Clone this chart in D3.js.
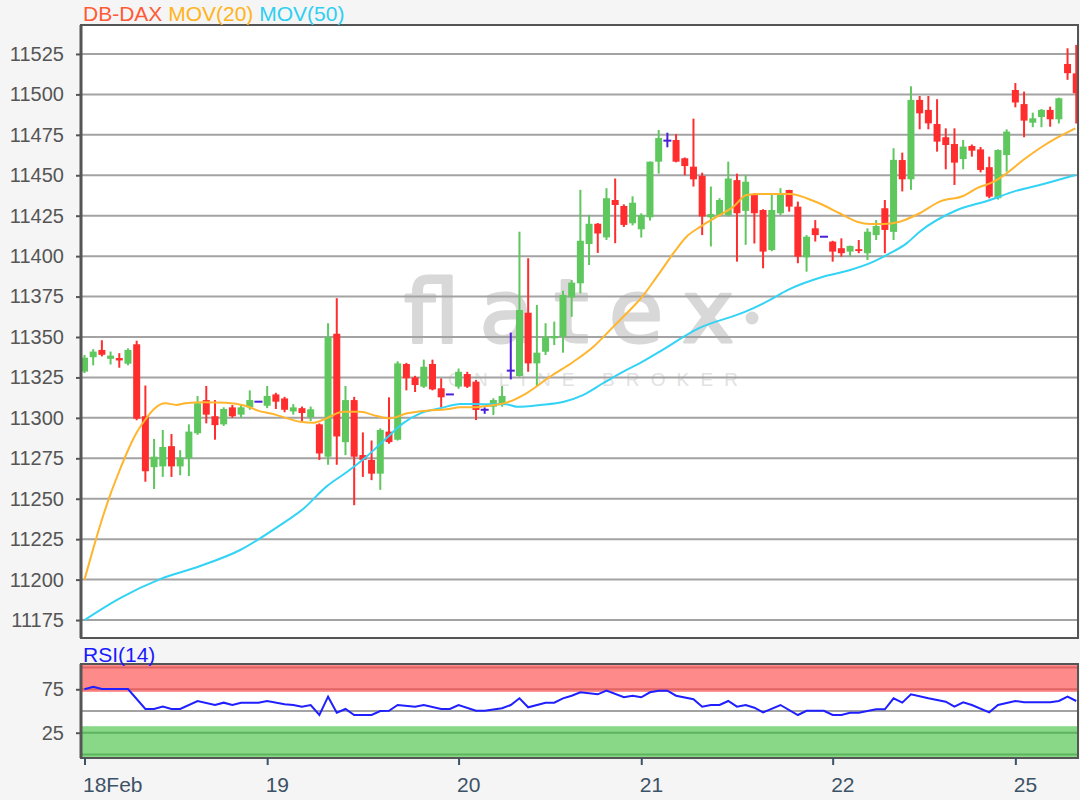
<!DOCTYPE html>
<html>
<head>
<meta charset="utf-8">
<script src="https://cdn.jsdelivr.net/npm/d3@7"></script>
<style>
    body { margin: 0; background: #f5f5f5; }
    svg { display: block; font-family: "Liberation Sans", Arial, sans-serif; }
</style>
</head>
<body>
<svg id="chart" width="1080" height="800"></svg>
<script>
// Bars 18 Feb - 25 Feb (O/H/L/C per bar)
const opens = [11328.6, 11337.5, 11342, 11336.5, 11337, 11333.5, 11345.5, 11301, 11269.5, 11270,
    11282.5, 11270, 11275, 11290.5, 11311, 11301, 11296, 11306.5, 11302, 11306.5,
    11310, 11307.5, 11314.5, 11312, 11304, 11306, 11300.5, 11296, 11276, 11352,
    11285, 11311, 11277, 11274, 11265.5, 11291.5, 11286.5, 11333.3, 11325, 11319.3,
    11333.3, 11318.3, 11314.5, 11319.3, 11327.1, 11322.4, 11305, 11306.9, 11308, 11329.2,
    11325.9, 11365, 11333.7, 11340.9, 11349.2, 11350.2, 11374.5, 11383.2, 11407.5, 11420,
    11411.6, 11434.7, 11431, 11420.3, 11416.6, 11424, 11458.4, 11471.4, 11471.8, 11460.5,
    11455.3, 11449.6, 11424, 11425.4, 11425.4, 11447, 11428, 11438, 11428.5, 11403.8,
    11426.5, 11440.9, 11430.6, 11399.3, 11417.2, 11412, 11409, 11404.9, 11402.8, 11404.3,
    11401.8, 11413, 11429.6, 11415, 11459.4, 11447.5, 11496.6, 11490.4, 11481.7, 11473.5,
    11469.3, 11460, 11468.1, 11466, 11455, 11435.8, 11462.5, 11502.7, 11494, 11482.5,
    11486, 11490.4, 11484.6, 11518.8, 11513];
const highs = [11338.9, 11342.5, 11348, 11341, 11340, 11343, 11347.7, 11320, 11287, 11292.5,
    11290, 11280, 11296, 11313.5, 11319.7, 11311, 11306.5, 11308, 11308, 11317,
    11310, 11319.7, 11315.5, 11313, 11308.5, 11307, 11307, 11296.6, 11358.5, 11374,
    11319.7, 11313, 11291, 11286, 11293.5, 11312.7, 11335, 11334, 11326, 11336,
    11336, 11324.4, 11314.5, 11330.5, 11328.5, 11323.4, 11306.5, 11312.1, 11319.7, 11352.7,
    11415.1, 11398.7, 11369.8, 11358.5, 11359.5, 11378.6, 11385.2, 11441, 11425.5, 11420.5,
    11442, 11448, 11432, 11437, 11426.5, 11458.5, 11478, 11476.3, 11475.5, 11461,
    11485, 11451.6, 11443, 11435.8, 11458.4, 11451, 11450, 11439, 11429, 11438,
    11442, 11441, 11433.7, 11413, 11422.3, 11412, 11409.5, 11411, 11406.5, 11410,
    11417.2, 11422.3, 11434.7, 11466.7, 11464, 11505, 11499, 11499, 11497, 11479,
    11479, 11471.8, 11469, 11467.5, 11461.5, 11466, 11478.4, 11507, 11501.7, 11488.7,
    11491, 11492.4, 11498, 11528.5, 11530.6];
const lows = [11327.7, 11332.5, 11338, 11333, 11331, 11332.5, 11298.5, 11260.5, 11256, 11263.5,
    11263.5, 11264.5, 11264, 11289.5, 11296.6, 11286.5, 11295, 11300, 11300, 11305,
    11310, 11306, 11305.5, 11303.5, 11302, 11297.5, 11298, 11274, 11271, 11271,
    11277, 11246, 11263.5, 11261.5, 11255.5, 11284, 11286, 11317, 11316, 11318.5,
    11317, 11306.5, 11314.5, 11318, 11318.5, 11298.7, 11302.5, 11301.8, 11306.9, 11323.8,
    11325.4, 11328.5, 11319.3, 11338.9, 11345, 11340.3, 11362.5, 11377, 11394.5, 11402,
    11410, 11408, 11418, 11419, 11411.5, 11422, 11451, 11467.3, 11458, 11450,
    11443, 11413, 11406, 11424.5, 11424.5, 11396.6, 11407, 11407.8, 11392.5, 11403,
    11425.4, 11427.5, 11395.6, 11390.4, 11409, 11412, 11396.6, 11399.7, 11399.7, 11401.8,
    11397.6, 11410, 11401.8, 11410, 11440, 11441, 11478.4, 11478.4, 11464.6, 11453.7,
    11444, 11453.7, 11461.5, 11451.8, 11435.8, 11435, 11452.2, 11492, 11473.5, 11479.7,
    11479.7, 11480, 11482, 11509, 11482];
const closes = [11337.2, 11341, 11339, 11338.5, 11335.5, 11342, 11299.5, 11267, 11276, 11282,
    11270, 11275.5, 11291.5, 11309, 11302, 11295.5, 11305.5, 11301, 11306.5, 11311,
    11310, 11313.5, 11310, 11305, 11306.5, 11303, 11305.3, 11278, 11350, 11288.5,
    11311, 11276, 11274, 11265.5, 11292.5, 11285, 11333.7, 11324.5, 11320.3, 11331.6,
    11317.6, 11312.7, 11314.5, 11328.5, 11319.3, 11304.9, 11305, 11311, 11313.5, 11329.2,
    11366.7, 11333.7, 11340.3, 11350.2, 11350.6, 11376, 11383.6, 11409.5, 11420, 11414,
    11435.8, 11431.6, 11419.3, 11433, 11425.4, 11458.4, 11473, 11471.4, 11458.4, 11455.7,
    11447.5, 11424.5, 11426, 11434.7, 11448, 11426.5, 11446, 11426.5, 11402.8, 11428.5,
    11437.8, 11430.6, 11399.7, 11412, 11413, 11412, 11402.8, 11401.8, 11406.3, 11403.2,
    11415.1, 11418.6, 11416.2, 11459.5, 11447.5, 11496.6, 11488.3, 11482.1, 11470.8, 11468.7,
    11457.8, 11467.7, 11465.2, 11453.3, 11436.8, 11465.6, 11477, 11495, 11483.8, 11485.2,
    11490.4, 11484.6, 11497.6, 11513.1, 11500.7];

// moving averages (bar index, value)
const ma20Idx = [0, 1, 2, 3, 4, 5, 6, 7, 8, 9.3, 10.6, 11.6, 13.7, 16.3, 18.6, 20.2, 21.3, 22.5, 24.8, 26.3,
    27.8, 29.7, 31.7, 33.6, 35.1, 37.1, 39.3, 41.6, 43.2, 44.7, 46.5, 48.5, 50.8, 53.5, 56.2, 58.5, 60.8,
    62.7, 63.8, 65.8, 67.7, 69.2, 70.8, 72.7, 74.6, 76.1, 77.6, 79.5, 81.1, 83, 84.9, 86.8, 88.8, 90.3,
    91.8, 93.7, 96, 98.3, 101, 102.6, 104.5, 106, 107.9, 109.8, 111.7, 113.9];
const ma20Val = [11200, 11219, 11237, 11253, 11267, 11280, 11291, 11299, 11305.5, 11309, 11308, 11309, 11309.6, 11309.4,
    11307.3, 11304, 11302.8, 11301.1, 11297.6, 11297, 11299.7, 11303.8, 11303.8, 11301.1, 11299.7, 11302.8,
    11304.4, 11305.3, 11306.5, 11306.5, 11307.5, 11309.4, 11315.2, 11325.4, 11334.7, 11344, 11356.4, 11366.7,
    11372.9, 11387.3, 11401.8, 11412, 11418.2, 11424.4, 11430.6, 11437.8, 11438.4, 11438.4, 11438.4, 11435.8,
    11431.6, 11426.5, 11421.3, 11419.9, 11419.9, 11421.3, 11426.5, 11433.7, 11437.2, 11442, 11446, 11451.2,
    11459.4, 11466.7, 11472.9, 11479];
const ma50Idx = [0, 4.1, 8.7, 13.3, 17.9, 22.5, 25.2, 27.8, 30.2, 32.4, 34.7, 36.6, 38.6, 40.9, 43.2, 46, 48.5,
    49.7, 52.4, 55.1, 57.3, 59.6, 61.9, 63.8, 66, 70.7, 75.9, 78.8, 80.8, 84.9, 88, 90.7, 92.6, 94.5, 96,
    100.3, 104.1, 106.8, 109.8, 113.9];
const ma50Val = [11175, 11188.6, 11200.3, 11208.4, 11218.3, 11233.7, 11244, 11257.5, 11266.7, 11276, 11287.4,
    11296.6, 11302.8, 11305.9, 11308.6, 11308.4, 11308.4, 11306.9, 11308, 11310, 11314.1, 11321.4, 11328.5,
    11333.7, 11340.6, 11355.6, 11365.5, 11372.9, 11379, 11387.3, 11391.4, 11396.6, 11401.8, 11407.9, 11415.1,
    11428.5, 11434.7, 11439.9, 11444, 11450.2];

// RSI(14)
const rsiIdx = [0, 1, 2, 5, 7, 8, 9, 10, 11, 13, 15, 16, 17, 18, 20, 21, 23, 24, 25, 26, 27, 28, 29, 30, 31,
    33, 34, 35, 36, 38, 39, 41, 42, 43, 45, 46, 48, 49, 50, 51, 53, 54, 55, 56, 57, 59, 60, 62, 63, 64, 65,
    66, 67, 68, 70, 71, 72, 73, 74, 75, 76, 77, 78, 80, 82, 83, 85, 86, 87, 88, 89, 91, 92, 93, 94, 95, 97,
    99, 100, 101, 102, 104, 105, 107, 108, 110, 111, 112, 113, 114];
const rsiVal = [75, 78, 75.3, 75.3, 52.3, 52.3, 55, 52.3, 52.3, 61.5, 56.9, 59.6, 56.9, 59.6, 59.6, 61.5, 57.7,
    56.9, 55, 56.9, 45.4, 66.5, 48, 52.3, 45.4, 45.4, 50, 50.3, 56.9, 55, 56.9, 52.3, 52.3, 56.9, 50.3, 50.3,
    53.1, 56.9, 64.6, 54.3, 59.6, 59.6, 64.6, 67.6, 71.5, 69.2, 73.4, 65.8, 67.6, 65.8, 71.5, 73.4, 73.4, 67.6,
    63.5, 55, 56.9, 56.9, 61.5, 55, 56.9, 53.8, 48.5, 56.9, 45.4, 50.3, 50.3, 45.4, 45.4, 48, 48, 52, 52, 64.6,
    59.6, 69.2, 64.6, 60.7, 55, 60, 56.9, 48.5, 56.9, 61.5, 60, 60, 60, 61.5, 66.5, 61.5];

const dayStart = [0, 21, 43, 64, 86, 107];
const dayLabels = ['18Feb', '19', '20', '21', '22', '25'];
const priceTicks = [11175, 11200, 11225, 11250, 11275, 11300, 11325, 11350, 11375, 11400, 11425, 11450, 11475, 11500, 11525];
const rsiTicks = [25, 75];

const GREEN = '#5ec75e', RED = '#ff2d2d', DOJI = '#4a1fd8';
const AXIS = '#555', LABEL = '#555', DATE = '#3c5266';

const svg = d3.select('#chart');
const main = {left: 81, right: 1078, top: 25, bottom: 638};
const low = {top: 664, bottom: 758};

const x = d3.scaleLinear().domain([-0.4, 114.2]).range([main.left, main.right]);
const y = d3.scaleLinear().domain([11163.9, 11542.9]).range([main.bottom, main.top]);
const yr = d3.scaleLinear().domain([-4.1, 104.1]).range([low.bottom, low.top]);

// panel backgrounds
svg.append('rect').attr('x', main.left).attr('y', main.top)
    .attr('width', main.right - main.left).attr('height', main.bottom - main.top).attr('fill', '#fff');
svg.append('rect').attr('x', main.left).attr('y', low.top)
    .attr('width', main.right - main.left).attr('height', low.bottom - low.top).attr('fill', '#fff');

svg.append('clipPath').attr('id', 'clipMain').append('rect')
    .attr('x', main.left).attr('y', main.top)
    .attr('width', main.right - main.left).attr('height', main.bottom - main.top);

// watermark
const wm = svg.append('g').attr('fill', '#d8d8d8');
wm.append('text').attr('x', 404).attr('y', 342)
    .attr('font-size', 88).attr('font-family', '"DejaVu Sans", sans-serif')
    .attr('stroke', '#d8d8d8').attr('stroke-width', 3).attr('stroke-linejoin', 'round')
    .attr('textLength', 330).attr('lengthAdjust', 'spacing')
    .text('flatex');
wm.append('circle').attr('cx', 752).attr('cy', 318).attr('r', 6.5);
wm.append('text').attr('x', 448).attr('y', 386).attr('font-size', 19)
    .attr('fill', '#e2e2e2').attr('textLength', 290).attr('lengthAdjust', 'spacing')
    .text('ONLINE BROKER');

// grid
svg.append('g').selectAll('line').data(priceTicks).join('line')
    .attr('x1', main.left).attr('x2', main.right)
    .attr('y1', d => y(d)).attr('y2', d => y(d))
    .attr('stroke', '#a3a3a3').attr('stroke-width', 2);

// y axis
const yAxis = svg.append('g').attr('transform', `translate(${main.left},0)`)
    .call(d3.axisLeft(y).tickValues(priceTicks).tickSize(5).tickPadding(12).tickFormat(d3.format('d')));
yAxis.select('.domain').remove();
yAxis.selectAll('line').attr('stroke', AXIS).attr('stroke-width', 2);
yAxis.selectAll('text').attr('fill', LABEL).attr('font-size', 20).attr('font-family', '"Liberation Sans", Arial, sans-serif');

// candles
const bars = d3.range(opens.length).map(i => ({i, o: opens[i], h: highs[i], l: lows[i], c: closes[i]}));
const colorOf = d => d.c > d.o ? GREEN : d.c < d.o ? RED : DOJI;
const cg = svg.append('g').attr('clip-path', 'url(#clipMain)');
cg.selectAll('line.wick').data(bars).join('line').attr('class', 'wick')
    .attr('x1', d => x(d.i)).attr('x2', d => x(d.i))
    .attr('y1', d => y(d.h)).attr('y2', d => y(d.l))
    .attr('stroke', colorOf).attr('stroke-width', 2);
cg.selectAll('rect.body').data(bars.filter(d => d.o !== d.c)).join('rect').attr('class', 'body')
    .attr('x', d => x(d.i) - 3.5).attr('width', 7)
    .attr('y', d => y(Math.max(d.o, d.c)))
    .attr('height', d => Math.max(1.5, Math.abs(y(d.o) - y(d.c))))
    .attr('fill', colorOf);
cg.selectAll('line.doji').data(bars.filter(d => d.o === d.c)).join('line').attr('class', 'doji')
    .attr('x1', d => x(d.i) - 4).attr('x2', d => x(d.i) + 4)
    .attr('y1', d => y(d.o)).attr('y2', d => y(d.o))
    .attr('stroke', DOJI).attr('stroke-width', 2);

// moving averages
const maLine = d3.line().x(d => x(d[0])).y(d => y(d[1])).curve(d3.curveMonotoneX);
cg.append('path').datum(d3.zip(ma50Idx, ma50Val)).attr('d', maLine)
    .attr('fill', 'none').attr('stroke', '#33d3f5').attr('stroke-width', 2);
cg.append('path').datum(d3.zip(ma20Idx, ma20Val)).attr('d', maLine)
    .attr('fill', 'none').attr('stroke', '#ffb52e').attr('stroke-width', 2);

// main frame
svg.append('rect').attr('x', main.left).attr('y', main.top)
    .attr('width', main.right - main.left).attr('height', main.bottom - main.top)
    .attr('fill', 'none').attr('stroke', AXIS).attr('stroke-width', 2);
svg.append('line').attr('x1', main.left).attr('x2', main.left)
    .attr('y1', main.top).attr('y2', main.bottom).attr('stroke', AXIS).attr('stroke-width', 3);

// title
const title = svg.append('text').attr('x', 83).attr('y', 21).attr('font-size', 21);
title.append('tspan').attr('fill', '#ff5a36').text('DB-DAX ');
title.append('tspan').attr('fill', '#ffb31a').text('MOV(20) ');
title.append('tspan').attr('fill', '#2fcff2').text('MOV(50)');

// RSI panel
svg.append('rect').attr('x', main.left).attr('width', main.right - main.left)
    .attr('y', yr(103.5)).attr('height', yr(72) - yr(103.5)).attr('fill', '#ff8a8a');
svg.append('rect').attr('x', main.left).attr('width', main.right - main.left)
    .attr('y', yr(32.5)).attr('height', yr(-4.1) - yr(32.5)).attr('fill', '#88d888');
svg.append('g').selectAll('line').data([100, 75]).join('line')
    .attr('x1', main.left).attr('x2', main.right).attr('y1', d => yr(d)).attr('y2', d => yr(d))
    .attr('stroke', '#e06464').attr('stroke-width', 2);
svg.append('g').selectAll('line').data([25, 0]).join('line')
    .attr('x1', main.left).attr('x2', main.right).attr('y1', d => yr(d)).attr('y2', d => yr(d))
    .attr('stroke', '#5cb45c').attr('stroke-width', 2);
svg.append('line').attr('x1', main.left).attr('x2', main.right)
    .attr('y1', yr(50)).attr('y2', yr(50)).attr('stroke', '#a3a3a3').attr('stroke-width', 2);

svg.append('path').datum(d3.zip(rsiIdx, rsiVal))
    .attr('d', d3.line().x(d => x(d[0])).y(d => yr(d[1])))
    .attr('fill', 'none').attr('stroke', '#1f1fff').attr('stroke-width', 2);

svg.append('rect').attr('x', main.left).attr('y', low.top)
    .attr('width', main.right - main.left).attr('height', low.bottom - low.top)
    .attr('fill', 'none').attr('stroke', AXIS).attr('stroke-width', 2);
svg.append('line').attr('x1', main.left).attr('x2', main.left)
    .attr('y1', low.top).attr('y2', low.bottom).attr('stroke', AXIS).attr('stroke-width', 3);

const rAxis = svg.append('g').attr('transform', `translate(${main.left},0)`)
    .call(d3.axisLeft(yr).tickValues(rsiTicks).tickSize(5).tickPadding(12));
rAxis.select('.domain').remove();
rAxis.selectAll('line').attr('stroke', AXIS).attr('stroke-width', 2);
rAxis.selectAll('text').attr('fill', LABEL).attr('font-size', 20).attr('font-family', '"Liberation Sans", Arial, sans-serif');

svg.append('text').attr('x', 83).attr('y', 662).attr('font-size', 21)
    .attr('fill', '#1a1aff').text('RSI(14)');

// date axis
const xAxis = svg.append('g').attr('transform', `translate(0,${low.bottom})`)
    .call(d3.axisBottom(x).tickValues(dayStart).tickSize(7).tickFormat((d, i) => dayLabels[i]));
xAxis.select('.domain').remove();
xAxis.selectAll('line').attr('stroke', DATE).attr('stroke-width', 2);
xAxis.selectAll('text').attr('fill', DATE).attr('font-size', 21)
    .attr('font-family', '"Liberation Sans", Arial, sans-serif')
    .attr('text-anchor', 'start').attr('x', -2).attr('y', 19).attr('dy', '0.71em');
</script>
</body>
</html>
